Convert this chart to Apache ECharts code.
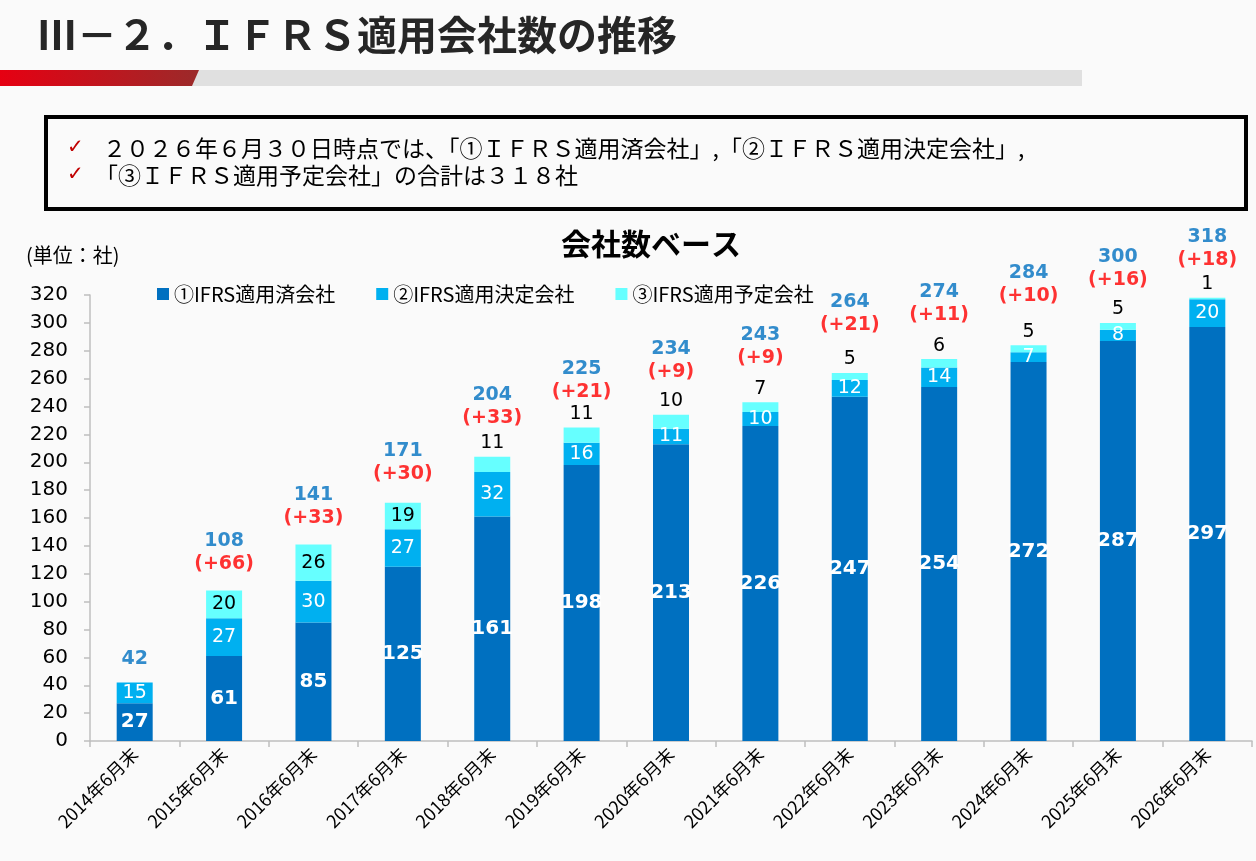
<!DOCTYPE html>
<html><head><meta charset="utf-8">
<script src="https://cdn.jsdelivr.net/npm/echarts@6/dist/echarts.min.js"></script>
<style>html,body{margin:0;padding:0;background:#fafafa}#c{width:1256px;height:861px}</style>
</head><body><div id="c"></div>
<script>
const categories = ['2014年6月末','2015年6月末','2016年6月末','2017年6月末','2018年6月末','2019年6月末','2020年6月末','2021年6月末','2022年6月末','2023年6月末','2024年6月末','2025年6月末','2026年6月末'];
const seriesNames = ['①IFRS適用済会社','②IFRS適用決定会社','③IFRS適用予定会社'];
const applied = [27,61,85,125,161,198,213,226,247,254,272,287,297];
const decided = [15,27,30,27,32,16,11,10,12,14,7,8,20];
const planned = [0,20,26,19,11,11,10,7,5,6,5,5,1];
const totals = [42,108,141,171,204,225,234,243,264,274,284,300,318];
const increases = [null,66,33,30,33,21,9,9,21,11,10,16,18];

// label gaps (px) above each bar for the total / increase annotation (style only)
const totalLabelGap = [12,15,15,17,27,24,31,33,36,33,38,31,26];

const JP = "'Noto Sans CJK JP', sans-serif";
const NUM = "'DejaVu Sans', sans-serif";
const C1 = '#0070C0', C2 = '#00B0F0', C3 = '#66FFFF';

const chart = echarts.init(document.getElementById('c'), null, {renderer:'canvas'});

const plannedData = planned.map(v => ({
  value: v,
  label: { position: v >= 15 ? 'inside' : 'top', distance: 4 }
}));
const totalData = totals.map((v, i) => ({
  value: v,
  label: { distance: totalLabelGap[i] }
}));

chart.setOption({
  backgroundColor: '#fafafa',
  animation: false,
  title: {
    text: '会社数ベース', left: 646, top: 224, textAlign: 'center',
    textStyle: { fontFamily: JP, fontSize: 30, fontWeight: 'bold', color: '#000' }
  },
  legend: {
    data: seriesNames, left: 152, top: 279, icon: 'rect', itemWidth: 12, itemHeight: 12,
    itemGap: 41, textStyle: { fontFamily: JP, fontSize: 20, color: '#000' }
  },
  grid: { left: 90, right: 4, top: 295, bottom: 120 },
  xAxis: {
    type: 'category', data: categories,
    axisLine: { lineStyle: { color: '#bfbfbf', width: 1.5 } },
    axisTick: { show: true, length: 6, lineStyle: { color: '#bfbfbf', width: 1.5 } },
    axisLabel: { rotate: 45, fontFamily: JP, fontSize: 18, color: '#000', margin: 10, interval: 0 }
  },
  yAxis: {
    type: 'value', min: 0, max: 320, interval: 20,
    axisLine: { show: true, lineStyle: { color: '#bfbfbf', width: 1.5 } },
    axisTick: { show: true, length: 6, lineStyle: { color: '#bfbfbf', width: 1.5 } },
    splitLine: { show: false },
    axisLabel: { fontFamily: NUM, fontSize: 20, color: '#000', margin: 22 }
  },
  graphic: [
    { type: 'rect', shape: { x: 0, y: 70, width: 1082, height: 16 }, style: { fill: '#e0e0e0' } },
    { type: 'polygon', shape: { points: [[0,70],[199,70],[192,86],[0,86]] },
      style: { fill: new echarts.graphic.LinearGradient(0,0,1,0,[{offset:0,color:'#e60012'},{offset:1,color:'#9b2a2a'}]) } },
    { type: 'text', left: 37, top: 15, style: { text: 'Ⅲ－２．ＩＦＲＳ適用会社数の推移', font: "bold 40px 'Noto Sans CJK JP'", fill: '#262626' } },
    { type: 'rect', shape: { x: 46, y: 117, width: 1200, height: 92 }, style: { fill: '#fafafa', stroke: '#000', lineWidth: 4 } },
    { type: 'text', left: 67, top: 138, style: { text: '✓', font: "20px 'DejaVu Sans'", fill: '#c00000' } },
    { type: 'text', left: 67, top: 165, style: { text: '✓', font: "20px 'DejaVu Sans'", fill: '#c00000' } },
    { type: 'text', left: 103, top: 137, style: { text: '２０２６年６月３０日時点では、「①ＩＦＲＳ適用済会社」,「②ＩＦＲＳ適用決定会社」,', font: "23px 'Noto Sans CJK JP'", fill: '#000' } },
    { type: 'text', left: 95, top: 164, style: { text: '「③ＩＦＲＳ適用予定会社」の合計は３１８社', font: "23px 'Noto Sans CJK JP'", fill: '#000' } },
    { type: 'text', left: 26, top: 245, style: { text: '(単位：社)', font: "20px 'Noto Sans CJK JP'", fill: '#000' } }
  ],
  series: [
    { name: seriesNames[0], type: 'bar', stack: 'a', barWidth: 36, data: applied,
      itemStyle: { color: C1 },
      label: { show: true, position: 'inside', color: '#fff', fontFamily: NUM, fontSize: 20, fontWeight: 'bold' } },
    { name: seriesNames[1], type: 'bar', stack: 'a', barWidth: 36, data: decided,
      itemStyle: { color: C2 },
      label: { show: true, position: 'inside', color: '#fff', fontFamily: NUM, fontSize: 19 } },
    { name: seriesNames[2], type: 'bar', stack: 'a', barWidth: 36, data: plannedData,
      itemStyle: { color: C3 },
      label: { show: true, color: '#000', fontFamily: NUM, fontSize: 19,
        formatter: p => p.value > 0 ? String(p.value) : '' } },
    { name: 'total', type: 'scatter', symbolSize: 0, data: totalData, z: 5,
      label: { show: true, position: 'top',
        formatter: p => increases[p.dataIndex] == null ? '{a|' + p.value + '}' : '{a|' + p.value + '}\n{b|(+' + increases[p.dataIndex] + ')}',
        rich: {
          a: { color: C1, fontFamily: NUM, fontSize: 19, fontWeight: 'bold', lineHeight: 23, align: 'center' },
          b: { color: '#ff0000', fontFamily: NUM, fontSize: 19, fontWeight: 'bold', lineHeight: 23, align: 'center' }
        } } }
  ]
});
</script></body></html>
